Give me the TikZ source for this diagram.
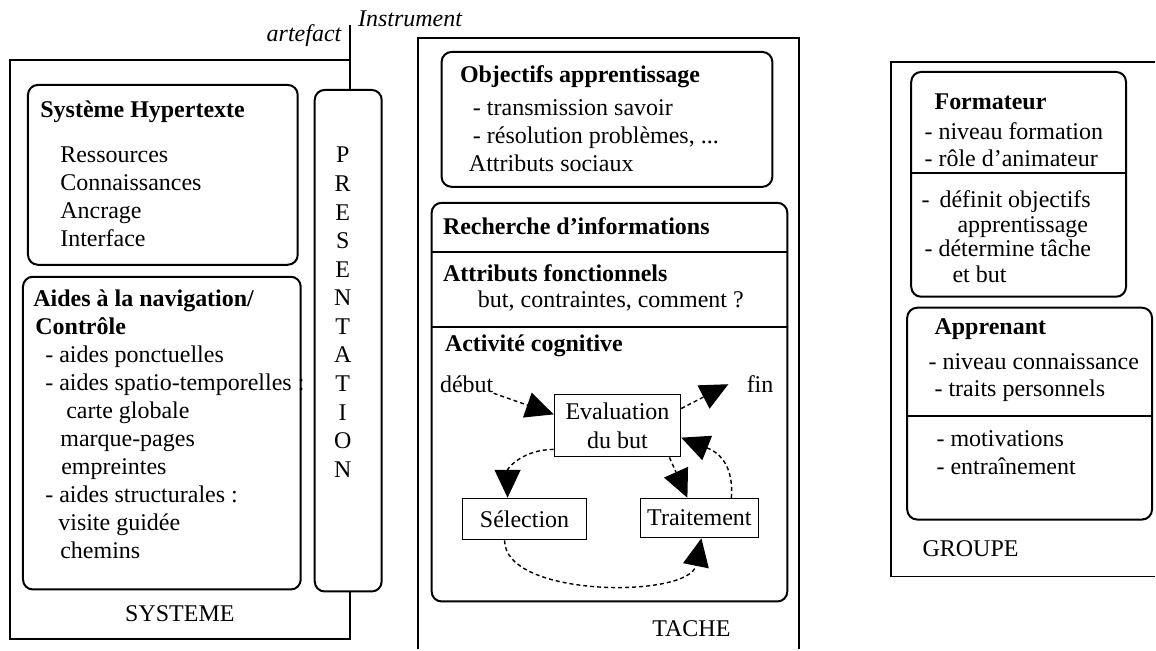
\documentclass[tikz,border=0pt]{standalone}
\usepackage{fontspec}
\setmainfont{Liberation Serif}
\usetikzlibrary{arrows.meta}

\begin{document}
\begin{tikzpicture}[x=0.5pt,y=-0.5pt,font=\fontsize{12pt}{14.5pt}\selectfont,
  cadre/.style={line width=1pt},
  boite/.style={line width=1pt,rounded corners=5pt},
  txt/.style={anchor=base west,inner sep=0pt},
  titre/.style={txt,font=\fontsize{12pt}{14.5pt}\selectfont\bfseries},
  etape/.style={draw,line width=0.8pt,inner sep=2pt,align=center},
  fleche/.style={dash pattern=on 2pt off 1.5pt,line width=0.7pt,-{Triangle[length=14pt,width=13pt]}}]
  %fundo
  \fill[white] (0,0) rectangle (1156,650);

  %systeme
  \draw[cadre] (350,25) -- (350,90);
  \draw[cadre] (350,60) -- (10,60) -- (10,640) -- (350,640) -- (350,592);
  \draw[boite] (315,90) rectangle (382,592);
  \draw[boite] (28,85) rectangle (298,265);
  \draw[boite] (23,277) rectangle (301,590);
  \node[txt,anchor=base east,font=\fontsize{12pt}{14.5pt}\selectfont\itshape] (artefact) at (342,42) {artefact};
  \node[txt,font=\fontsize{12pt}{14.5pt}\selectfont\itshape] (instrument) at (358,27) {Instrument};

  \node[titre] (hyper) at (40,118) {Système Hypertexte};
  \foreach \t [count=\i] in {Ressources,Connaissances,Ancrage,Interface}
    \node[txt] (hyper\i) at (60,{135+28*\i}) {\t};

  \node[titre] (aides) at (33,307) {Aides à la navigation/};
  \node[titre] (controle) at (35,335) {Contrôle};
  \foreach \x/\t [count=\i] in {45/- aides ponctuelles,45/- aides spatio-temporelles :,66/carte globale,60/marque-pages,61/empreintes,45/- aides structurales :,58/visite guidée,60/chemins}
    \node[txt] (aide\i) at (\x,{335+28*\i}) {\t};
  \node[txt,anchor=base] (systeme) at (180,622) {SYSTEME};

  %presentation
  \foreach \l [count=\i] in {P,R,E,S,E,N,T,A,T,I,O,N}
    \node[txt,anchor=base] (pres\i) at (343,{134.4+28.6*\i}) {\l};

  %tache
  \draw[cadre] (418,650) -- (418,38) -- (800,38) -- (800,650);
  \draw[boite] (442,52) rectangle (773,187);
  \draw[boite] (432,203) rectangle (788,602);
  \draw[cadre] (432,252) -- (788,252);
  \draw[cadre] (432,327) -- (788,327);

  \node[titre] (objectifs) at (460,83) {Objectifs apprentissage};
  \node[txt] (obj1) at (473,116) {- transmission savoir};
  \node[txt] (obj2) at (473,144) {- résolution problèmes, ...};
  \node[txt] (sociaux) at (469,172) {Attributs sociaux};
  \node[titre] (recherche) at (443,235) {Recherche d'informations};
  \node[titre] (fonction) at (443,282) {Attributs fonctionnels};
  \node[txt] (but) at (478,308) {but, contraintes, comment ?};
  \node[titre] (cognitive) at (445,352) {Activité cognitive};
  \node[txt,anchor=base] (tache) at (692,637) {TACHE};

  %activite cognitive
  \node[etape,minimum width=63pt,minimum height=31pt] (eval) at (618,426) {Evaluation\\du but};
  \node[etape,minimum width=62pt,minimum height=20.5pt] (selection) at (525,519.5) {Sélection};
  \node[etape,minimum width=59pt,minimum height=19.5pt] (traitement) at (700,518.5) {Traitement};
  \node[txt] (debut) at (440,393) {début};
  \node[txt] (fin) at (747,393) {fin};

  \draw[fleche] (debut.south east) -- (eval.170);
  \draw[fleche] (eval.15) -- ([xshift=-9pt]fin.west);
  \draw[fleche] ([yshift=4pt]eval.south west) .. controls +(-30,0) and +(0,-30) .. ([xshift=-8.5pt]selection.north);
  \draw[fleche] ([xshift=26pt]eval.south) -- ([xshift=-6pt]traitement.north);
  \draw[fleche] ([xshift=16pt]traitement.north) .. controls +(3,-40) and +(30,12) .. ([yshift=-6pt]eval.east);
  \draw[fleche] ([xshift=-10pt]selection.south) .. controls +(0,58) and +(-12,60) .. ([xshift=1pt]traitement.south);

  %groupe
  \draw[cadre] (1156,62) -- (892,62) -- (892,577) -- (1156,577);
  \draw[boite] (912,72) rectangle (1127,297);
  \draw[cadre] (912,173) -- (1127,173);
  \draw[boite] (908,308) rectangle (1153,520);
  \draw[cadre] (908,416) -- (1153,416);

  \node[titre] (formateur) at (935,110) {Formateur};
  \node[txt] (form1) at (925,140) {- niveau formation};
  \node[txt] (form2) at (925,167) {- rôle d'animateur};
  \node[txt] (form3) at (922,208) {-\hspace{5pt}définit objectifs};
  \node[txt] (form4) at (958,233) {apprentissage};
  \node[txt] (form5) at (925,257) {- détermine tâche};
  \node[txt] (form6) at (953,283) {et but};

  \node[titre] (apprenant) at (935,335) {Apprenant};
  \node[txt] (app1) at (929,370) {- niveau connaissance};
  \node[txt] (app2) at (935,397) {- traits personnels};
  \node[txt] (app3) at (937,447) {- motivations};
  \node[txt] (app4) at (937,475) {- entraînement};
  \node[txt] (groupe) at (923,557) {GROUPE};
\end{tikzpicture}
\end{document}
